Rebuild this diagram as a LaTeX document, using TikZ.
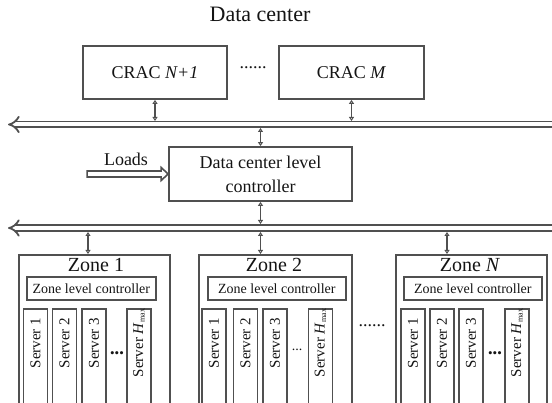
\documentclass[tikz,border=0pt]{standalone}
\usepackage{fontspec}
\setmainfont{Liberation Serif}
\usetikzlibrary{arrows.meta}
\definecolor{ln}{RGB}{80,80,80}
\definecolor{tx}{RGB}{20,20,20}
\newcommand{\fs}[1]{\fontsize{#1}{#1}\selectfont}
\newcommand{\hmax}{\textit{H}\raisebox{-1.5pt}{\fontsize{8}{8}\selectfont max}}
\begin{document}
\begin{tikzpicture}[x=1pt,y=-1pt,
  box/.style={draw=ln, line width=1.7pt, text=tx, inner sep=0pt, align=center},
  lbl/.style={text=tx, inner sep=0pt, align=center},
  bus/.style={draw=ln, line width=1.8pt, double=white, double distance=4pt, {Implies}-{Implies}},
  link/.style={draw=ln, line width=1.6pt, {Triangle[open,length=4pt,width=5pt]}-{Triangle[open,length=4pt,width=5pt]}},
  server/.style={box, minimum width=24pt, minimum height=120pt, anchor=north},
  stext/.style={lbl, rotate=90, font=\fs{15}}
]
\useasboundingbox (0,0) rectangle (552,403);
\clip (0,0) rectangle (552,403);

% title
\node[lbl, font=\fs{22}] (title) at (260,14) {Data center};

% CRACs
\node[box, minimum width=144pt, minimum height=53pt, font=\fs{18}] (cracA) at (155,72.5) {CRAC \textit{N+1}};
\node[box, minimum width=145pt, minimum height=53pt, font=\fs{18}] (cracB) at (351.5,72.5) {CRAC \textit{M}};
\node[lbl, font=\fs{18}] (cdots) at (253,68) {......};

% bus 1
\coordinate (b1l) at (8,124.5);
\coordinate (b1r) at (565,124.5);
\draw[bus] (b1l) -- (b1r);
\coordinate (b1a) at (155,121);
\coordinate (b1b) at (351.5,121);
\coordinate (b1c) at (260.5,128);
\draw[link] (cracA.south) -- (b1a);
\draw[link] (cracB.south) -- (b1b);

% controller
\node[box, minimum width=183pt, minimum height=54pt, font=\fontsize{18}{24}\selectfont] (ctrl) at (260.5,174) {Data center level\\controller};
\draw[link] (b1c) -- (ctrl.north);
% Loads hollow arrow
\draw[draw=ln, line width=1.6pt, line join=miter, fill=white]
  ([xshift=-81pt,yshift=-3pt]ctrl.west) -- ([xshift=-7pt,yshift=-3pt]ctrl.west)
  -- ([xshift=-7pt,yshift=-6.5pt]ctrl.west) -- (ctrl.west)
  -- ([xshift=-7pt,yshift=6.5pt]ctrl.west) -- ([xshift=-7pt,yshift=3pt]ctrl.west)
  -- ([xshift=-81pt,yshift=3pt]ctrl.west) -- cycle;
\node[lbl, font=\fs{18}] (loads) at (126,159) {Loads};

% bus 2
\coordinate (b2l) at (8,228);
\coordinate (b2r) at (565,228);
\draw[bus] (b2l) -- (b2r);
\coordinate (b2c) at (260.5,224);
\draw[link] (ctrl.south) -- (b2c);
\coordinate (b2z1) at (88,232);
\coordinate (b2z2) at (260.5,232);
\coordinate (b2z3) at (447,232);

% zones
\node[box, minimum width=151pt, minimum height=180pt, anchor=north west] (z1) at (18,254) {};
\node[box, minimum width=153pt, minimum height=180pt, anchor=north west] (z2) at (198,254) {};
\node[box, minimum width=151pt, minimum height=180pt, anchor=north west] (z3) at (395,254) {};
\draw[link] (b2z1) -- (z1.north -| b2z1);
\draw[link] (b2z2) -- (z2.north -| b2z2);
\draw[link] (b2z3) -- (z3.north -| b2z3);

\node[lbl, font=\fs{20}] (z1t) at (96,265) {Zone 1};
\node[lbl, font=\fs{20}] (z2t) at (274,265) {Zone 2};
\node[lbl, font=\fs{20}] (z3t) at (470,265) {Zone \textit{N}};

\node[box, minimum width=129pt, minimum height=23pt, anchor=north west, font=\fs{14}] (c1) at (26,276) {Zone level controller};
\node[box, minimum width=138pt, minimum height=23pt, anchor=north west, font=\fs{14}] (c2) at (207,276) {Zone level controller};
\node[box, minimum width=138pt, minimum height=23pt, anchor=north west, font=\fs{14}] (c3) at (403,276) {Zone level controller};

% servers zone 1
\foreach \x/\n in {35.5/1, 64.5/2, 94/3}{
  \node[server] (s1\n) at (\x,308) {};
  \node[stext] at (\x,343) {Server \n};
}
\node[server] (s1h) at (139,308) {};
\node[stext] at (139,343) {Server \hmax};
\node[lbl, font=\fs{13}] (d1) at (117,355) {•••};

% servers zone 2
\foreach \x/\n in {214/1, 245.5/2, 275/3}{
  \node[server] (s2\n) at (\x,308) {};
  \node[stext] at (\x,343) {Server \n};
}
\node[server] (s2h) at (320.5,308) {};
\node[stext] at (320.5,343) {Server \hmax};
\node[lbl, font=\fs{14}] (d2) at (297,350) {...};

% servers zone N
\foreach \x/\n in {413/1, 442/2, 471/3}{
  \node[server] (s3\n) at (\x,308) {};
  \node[stext] at (\x,343) {Server \n};
}
\node[server] (s3h) at (517,308) {};
\node[stext] at (517,343) {Server \hmax};
\node[lbl, font=\fs{13}] (d3) at (495,355) {•••};

\node[lbl, font=\fs{18}] (zdots) at (372,326) {......};
\end{tikzpicture}
\end{document}
